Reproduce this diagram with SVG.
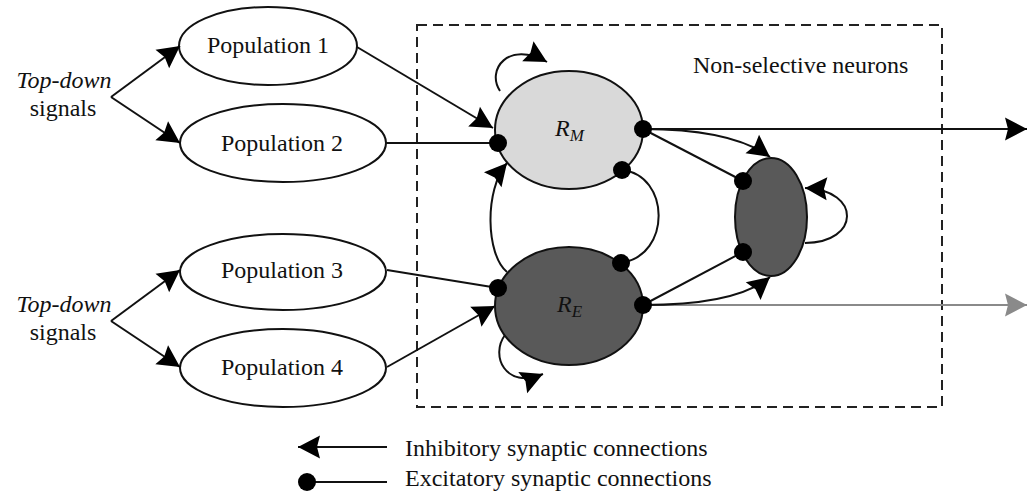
<svg xmlns="http://www.w3.org/2000/svg" width="1034" height="496" viewBox="0 0 1034 496">
<style>
.t{font-family:"Liberation Serif","Times New Roman",serif;font-size:24px;fill:#111}
.it{font-style:italic}
.pop{fill:#fff;stroke:#111;stroke-width:2}
.ln{fill:none;stroke:#111;stroke-width:2}
.arr{marker-end:url(#ah)}
.dot{fill:#000}
</style>
<defs>
<marker id="ah" markerUnits="userSpaceOnUse" markerWidth="23" markerHeight="23" refX="22" refY="11.5" orient="auto" overflow="visible">
<path d="M0,0 L22,11.5 L0,23 L3,11.5 z" fill="#000"/>
</marker>
<marker id="ahg" markerUnits="userSpaceOnUse" markerWidth="23" markerHeight="23" refX="22" refY="11.5" orient="auto" overflow="visible">
<path d="M0,0 L22,11.5 L0,23 L3,11.5 z" fill="#8a8a8a"/>
</marker>
</defs>
<rect x="417" y="25" width="525" height="382" fill="none" stroke="#222" stroke-width="2" stroke-dasharray="10,6"/>
<text class="t" x="693" y="73">Non-selective neurons</text>
<g id="topdown1"><text class="t it" x="64" y="88" text-anchor="middle">Top-down</text><text class="t" x="63" y="116" text-anchor="middle">signals</text></g>
<g id="topdown2"><text class="t it" x="64" y="312" text-anchor="middle">Top-down</text><text class="t" x="63" y="340" text-anchor="middle">signals</text></g>
<g id="pop1"><ellipse class="pop" cx="268" cy="46" rx="89" ry="39"/><text class="t" x="268" y="53" text-anchor="middle">Population 1</text></g>
<g id="pop2"><ellipse class="pop" cx="283" cy="143" rx="103" ry="39"/><text class="t" x="282" y="151" text-anchor="middle">Population 2</text></g>
<g id="pop3"><ellipse class="pop" cx="283" cy="272" rx="103" ry="38"/><text class="t" x="282" y="278" text-anchor="middle">Population 3</text></g>
<g id="pop4"><ellipse class="pop" cx="283" cy="368" rx="103" ry="39"/><text class="t" x="282" y="375" text-anchor="middle">Population 4</text></g>
<g id="connectors">
<path class="ln arr" d="M111,97 L180,46"/>
<path class="ln arr" d="M111,97 L180,143"/>
<path class="ln arr" d="M111,321 L180,270"/>
<path class="ln arr" d="M111,321 L180,367"/>
<path class="ln arr" d="M357,47 L493,128"/>
<path class="ln" d="M386,143 L498,143"/>
<path class="ln" d="M387,270 L498,288"/>
<path class="ln arr" d="M387,367 L495,306"/>
<path class="ln arr" d="M500,91 C486,70 508,40 547,62"/>
<path class="ln arr" d="M505,335 C490,355 505,390 543,374"/>
<path class="ln arr" d="M507,272 C486,255 484,190 507,163"/>
<path class="ln" d="M622,170 C670,175 672,255 621,263"/>
<path class="ln arr" d="M643,129 L1027,129"/>
<path class="ln" d="M643,129 L743,181"/>
<path class="ln arr" d="M643,129 C690,129 740,135 770,157"/>
<path d="M643,305 L1027,305" fill="none" stroke="#8a8a8a" stroke-width="2" marker-end="url(#ahg)"/>
<path class="ln" d="M643,305 L743,252"/>
<path class="ln arr" d="M643,305 C700,305 745,298 770,277"/>
<path class="ln arr" d="M805,243 C860,243 862,190 805,188"/>
</g>
<g id="RM"><ellipse cx="569" cy="130" rx="74" ry="59" fill="#d9d9d9" stroke="#111" stroke-width="2"/><text class="t it" x="555" y="136" style="font-size:24px">R<tspan dy="5" style="font-size:17px">M</tspan></text></g>
<g id="RE"><ellipse cx="569" cy="306" rx="74" ry="59" fill="#595959" stroke="#111" stroke-width="2"/><text class="t it" x="557" y="312" style="font-size:24px">R<tspan dy="5" style="font-size:17px">E</tspan></text></g>
<g id="NS"><ellipse cx="771" cy="217" rx="36" ry="59" fill="#595959" stroke="#111" stroke-width="2"/></g>
<g id="dots">
<circle class="dot" cx="498" cy="143" r="9"/>
<circle class="dot" cx="643" cy="129" r="9"/>
<circle class="dot" cx="622" cy="170" r="9"/>
<circle class="dot" cx="498" cy="288" r="9"/>
<circle class="dot" cx="621" cy="263" r="9"/>
<circle class="dot" cx="643" cy="305" r="9"/>
<circle class="dot" cx="743" cy="181" r="9"/>
<circle class="dot" cx="743" cy="252" r="9"/>
</g>
<g id="legend">
<path class="ln" d="M387,447 L298,447" marker-end="url(#ah)"/>
<path class="ln" d="M307,482 L387,482"/>
<circle class="dot" cx="307" cy="482" r="9"/>
<text class="t" x="405" y="456">Inhibitory synaptic connections</text>
<text class="t" x="405" y="486">Excitatory synaptic connections</text>
</g>
</svg>
